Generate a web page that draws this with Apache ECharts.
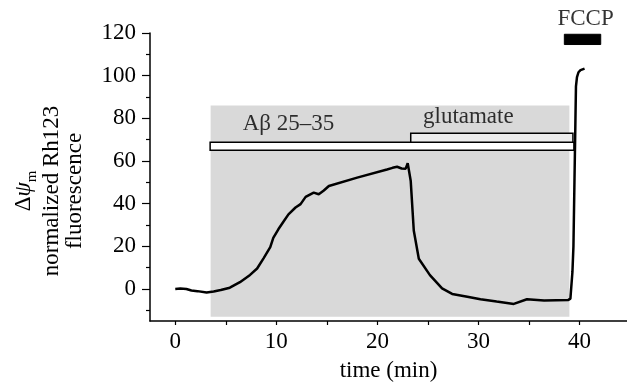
<!DOCTYPE html>
<html>
<head>
<meta charset="utf-8">
<script src="https://cdn.jsdelivr.net/npm/echarts@6/dist/echarts.min.js"></script>
<style>
html,body{margin:0;padding:0;background:#fff;}
#main{width:627px;height:387px;}
</style>
</head>
<body>
<div id="main"></div>
<script>
//荧光曲线数据 (时间 min / 归一化荧光)
var timeData=[0,0.5,1.1,1.6,2.2,3.1,3.8,4.5,5.4,6.4,7.4,8.1,8.75,9.4,9.7,10.2,10.7,11.2,11.9,12.4,12.9,13.7,14.2,14.7,15.2,18,20.95,21.5,21.95,22.4,22.8,23.0,23.3,23.6,24.1,25.2,26.4,27.4,28.9,30.2,31.8,33.5,34.8,36.5,38.9,39.1,39.3,39.4,39.5,39.6,39.65,39.75,39.9,40.1,40.5];
var fluoData=[0,0.2,0,-0.7,-1,-1.6,-1.2,-0.5,0.6,3.2,6.6,9.6,14.5,19.6,24,28,31.5,35,38.2,39.8,43.2,45.2,44.4,46.2,48.3,52.2,56,56.8,57.3,56.5,56.4,59,50.6,27.4,14.2,6.5,0.3,-2.3,-3.6,-4.8,-5.9,-7,-4.8,-5.4,-5.1,-4.5,8,20,50,80,95,99.3,101.6,102.6,103.3];

//坐标轴刻度
var xTicks=[0,5,10,15,20,25,30,35,40];
var xLabels=[0,10,20,30,40];
var yLabels=[0,20,40,60,80,100,120];
var yMinorTicks=[-10,10,30,50,70,90,110];

//给药区间 [x0,x1,y0,y1]
var shadeBox=[3.5,39.0,-13,86];
var abetaBox=[3.45,39.45,65,68.8];
var gluBox=[23.3,39.35,68.8,73];
var fccpBox=[38.5,42.1,114.6,119.4];

//文字标注
var labelText=['A\u03b2 25\u201335','glutamate','FCCP'];
var labelX=[11.2,29.0,40.6];
var labelY=[77.6,80.8,126.8];

var serif='Liberation Serif';

var lineData=[];
for(var i=0;i<timeData.length;i++){
    lineData.push([timeData[i],fluoData[i]]);
}
var labelData=[];
for(var i=0;i<labelText.length;i++){
    labelData.push([labelX[i],labelY[i],labelText[i]]);
}

function rectRender(fills){
    return function(params,api){
        var p0=api.coord([api.value(0),api.value(3)]);
        var p1=api.coord([api.value(1),api.value(2)]);
        var f=fills[params.dataIndex];
        return {
            type:'rect',
            shape:{x:p0[0],y:p0[1],width:p1[0]-p0[0],height:p1[1]-p0[1]},
            style:{fill:f.fill,stroke:f.stroke,lineWidth:f.width}
        };
    };
}

var myChart=echarts.init(document.getElementById('main'));
var option={
    animation:false,
    backgroundColor:'#fff',
    grid:{left:150,right:0,top:33,bottom:63,containLabel:false},
    xAxis:{
        type:'value',
        min:-2.5,
        max:44.7,
        name:'time (min)',
        nameLocation:'middle',
        nameGap:38,
        nameTextStyle:{fontFamily:serif,fontSize:23,color:'#000'},
        axisLine:{onZero:false,lineStyle:{color:'#000',width:1.5}},
        axisTick:{customValues:xTicks,length:4,lineStyle:{color:'#000',width:1.2}},
        axisLabel:{customValues:xLabels,fontFamily:serif,fontSize:23,color:'#000',margin:9},
        splitLine:{show:false}
    },
    yAxis:[
        {
            type:'value',
            position:'left',
            min:-15,
            max:120,
            axisLine:{show:true,onZero:false,lineStyle:{color:'#000',width:1.5}},
            axisTick:{show:true,customValues:yLabels,length:8,lineStyle:{color:'#000',width:1.2}},
            axisLabel:{customValues:yLabels,fontFamily:serif,fontSize:23,color:'#000',margin:14},
            splitLine:{show:false}
        },
        {
            type:'value',
            position:'left',
            offset:0,
            min:-15,
            max:120,
            axisLine:{show:false,onZero:false},
            axisTick:{show:true,customValues:yMinorTicks,length:4,lineStyle:{color:'#000',width:1.2}},
            axisLabel:{show:false},
            splitLine:{show:false}
        }
    ],
    graphic:[{
        type:'text',
        x:47,
        y:191,
        rotation:Math.PI/2,
        style:{
            text:'{d|\u0394}{p|\u03c8}{s|m}\nnormalized Rh123\nfluorescence',
            fontFamily:serif,
            fontSize:23,
            lineHeight:23,
            fill:'#000',
            align:'center',
            verticalAlign:'middle',
            rich:{
                d:{fontFamily:serif,fontSize:23,lineHeight:32},
                p:{fontFamily:serif,fontSize:23,fontStyle:'italic',lineHeight:32},
                s:{fontFamily:serif,fontSize:15,lineHeight:15,verticalAlign:'bottom'}
            }
        }
    }],
    series:[
        {
            name:'shade',
            type:'custom',
            z:1,
            silent:true,
            renderItem:rectRender([{fill:'#d9d9d9',stroke:null,width:0}]),
            data:[shadeBox]
        },
        {
            name:'treatment',
            type:'custom',
            z:3,
            silent:true,
            renderItem:rectRender([
                {fill:'#ffffff',stroke:'#000',width:1.5},
                {fill:'#ececec',stroke:'#000',width:1.5},
                {fill:'#000000',stroke:'#000',width:1}
            ]),
            data:[abetaBox,gluBox,fccpBox]
        },
        {
            name:'Rh123',
            type:'line',
            z:5,
            showSymbol:false,
            clip:false,
            lineStyle:{color:'#000',width:2.5},
            data:lineData
        },
        {
            name:'labels',
            type:'scatter',
            z:6,
            symbolSize:0,
            clip:false,
            silent:true,
            label:{
                show:true,
                position:'inside',
                fontFamily:serif,
                fontSize:23,
                color:'#000',
                formatter:function(p){return p.data[2];}
            },
            data:labelData
        }
    ]
};
myChart.setOption(option);
</script>
</body>
</html>
